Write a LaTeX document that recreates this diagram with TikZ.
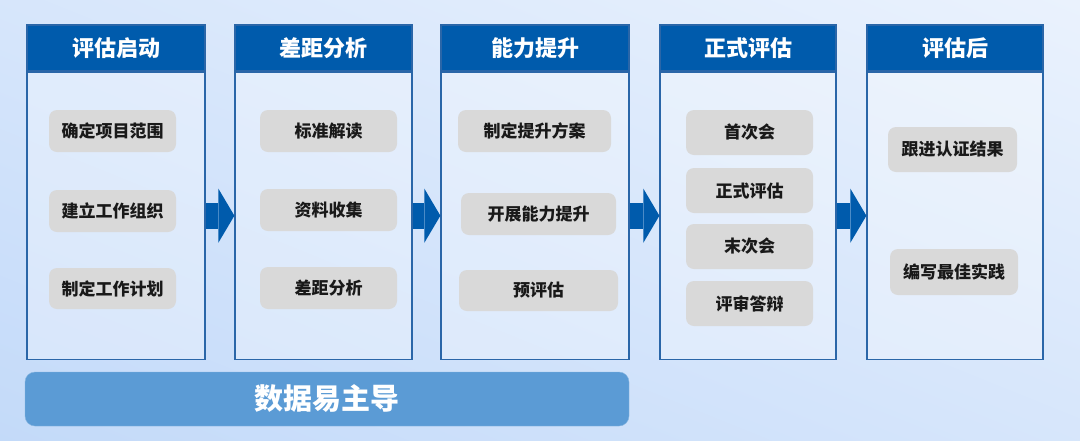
\documentclass[tikz,border=0pt]{standalone}
\usepackage{fontspec}
\setmainfont{Noto Sans CJK SC}
\usepackage{tikz}
\usetikzlibrary{arrows.meta, positioning, calc}

\definecolor{headblue}{HTML}{005BAC}
\definecolor{edgeblue}{HTML}{2A66A8}
\definecolor{chipgray}{HTML}{D9D9D9}
\definecolor{barblue}{HTML}{5B9BD5}
\definecolor{bgblue}{HTML}{A6C8F6}
\definecolor{bgwhite}{HTML}{FCFDFF}

\begin{document}
\begin{tikzpicture}[
  x=1pt, y=-1pt,
  node distance=0pt and 28.8pt,
  colhead/.style={draw=edgeblue, line width=1.2pt, fill=headblue, minimum width=#1, minimum height=46pt, inner sep=0pt, text=white, font=\fontsize{22}{25}\selectfont\bfseries},
  colbody/.style={draw=edgeblue, line width=1.2pt, fill=white, fill opacity=0.3, minimum width=#1, minimum height=287pt, inner sep=0pt},
  item/.style 2 args={fill=chipgray, rounded corners=8pt, minimum width=#1, minimum height=#2, inner sep=0pt, text=black!90, font=\fontsize{17}{20}\selectfont\bfseries},
  flowarrow/.style={draw=headblue, line width=26pt, -{Triangle[length=16pt 0 0, width=54pt 0 0, line width=0pt 0 0]}},
  databar/.style={fill=barblue, draw=barblue!75!white, rounded corners=10pt, minimum width=604pt, minimum height=54pt, inner sep=0pt, text=white, font=\fontsize{29}{32}\selectfont\bfseries}
]
  \useasboundingbox (0,0) rectangle (1080,440);
  % background
  \begin{scope}
    \clip (0,0) rectangle (1080,440);
    \shade[top color=bgwhite, bottom color=bgblue, shading angle=-22] (-500,-610) rectangle (1300,1190);
  \end{scope}

  % stage headers and bodies
  \node[colhead=178pt] (h1) at (116,48) {评估启动};
  \node[colhead=177pt, right=of h1] (h2) {差距分析};
  \node[colhead=188pt, right=27.8pt of h2] (h3) {能力提升};
  \node[colhead=176pt, right=29.8pt of h3] (h4) {正式评估};
  \node[colhead=176pt, right=29.8pt of h4] (h5) {评估后};
  \node[colbody=178pt, below=of h1] (b1) {};
  \node[colbody=177pt, below=of h2] (b2) {};
  \node[colbody=188pt, below=of h3] (b3) {};
  \node[colbody=176pt, below=of h4] (b4) {};
  \node[colbody=176pt, below=of h5] (b5) {};

  % tasks
  \node[item={127pt}{42pt}] (s11) at (112.5,131) {确定项目范围};
  \node[item={127pt}{42pt}] (s12) at (112.5,211) {建立工作组织};
  \node[item={127pt}{41pt}] (s13) at (112.5,288.5) {制定工作计划};
  \node[item={137pt}{42pt}] (s21) at (328.5,131) {标准解读};
  \node[item={137pt}{42pt}] (s22) at (328.5,210) {资料收集};
  \node[item={137pt}{42pt}] (s23) at (328.5,288) {差距分析};
  \node[item={153pt}{42pt}] (s31) at (534.5,131) {制定提升方案};
  \node[item={155pt}{42pt}] (s32) at (538.5,214) {开展能力提升};
  \node[item={159pt}{41pt}] (s33) at (538.5,290.5) {预评估};
  \node[item={127pt}{45pt}] (s41) at (749.5,132.5) {首次会};
  \node[item={127pt}{45pt}] (s42) at (749.5,190.5) {正式评估};
  \node[item={127pt}{45pt}] (s43) at (749.5,246.5) {末次会};
  \node[item={127pt}{45pt}] (s44) at (749.5,303.5) {评审答辩};
  \node[item={129pt}{45pt}] (s51) at (952.5,149.5) {跟进认证结果};
  \node[item={128pt}{46pt}] (s52) at (954,272) {编写最佳实践};

  \node[databar] (lead) at (327,399) {数据易主导};

  \draw[flowarrow] (b1.east) -- (b2.west);
  \draw[flowarrow] (b2.east) -- (b3.west);
  \draw[flowarrow] (b3.east) -- (b4.west);
  \draw[flowarrow] (b4.east) -- (b5.west);
\end{tikzpicture}
\end{document}
